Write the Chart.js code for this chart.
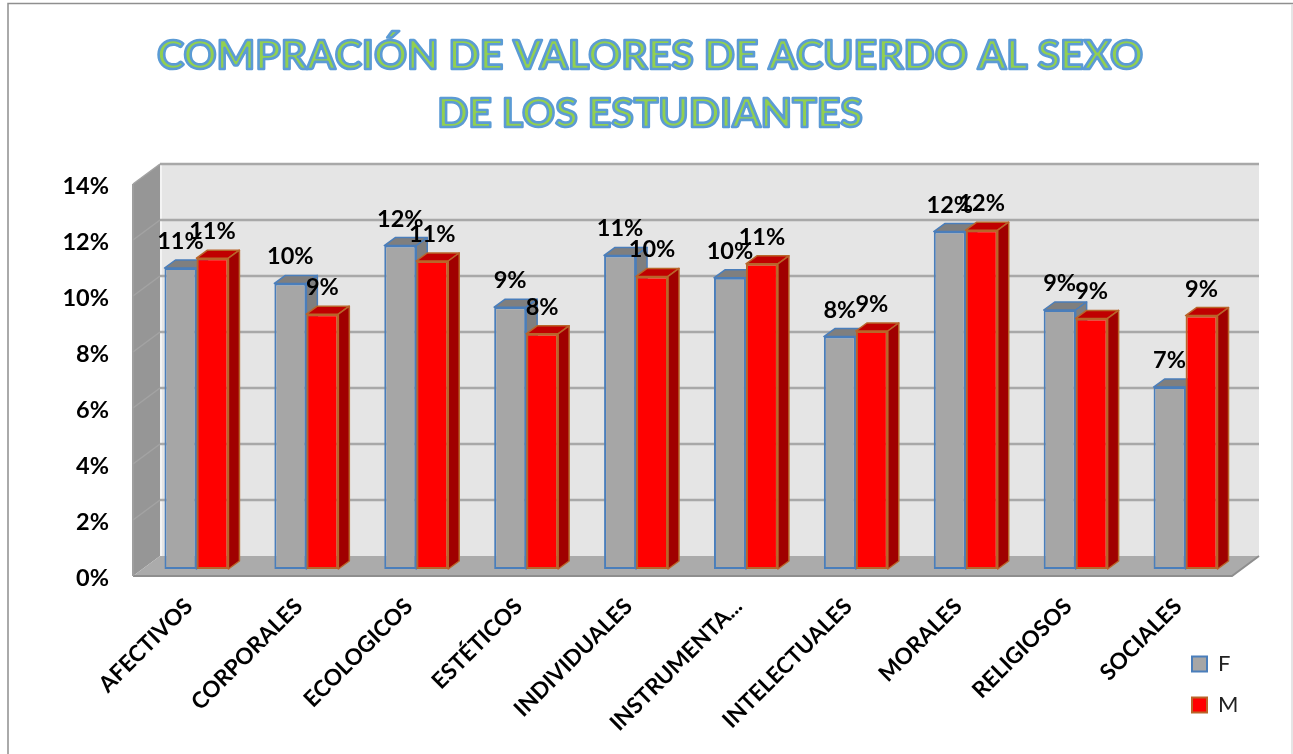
<!DOCTYPE html>
<html>
<head>
<meta charset="utf-8">
<style>html,body{margin:0;padding:0;background:#fff}canvas{display:block}</style>
<script src="https://cdn.jsdelivr.net/npm/chart.js@4/dist/chart.umd.min.js"></script>
</head>
<body>
<canvas id="c" width="1293" height="754"></canvas>
<script>
const titleLines = ['COMPRACIÓN DE VALORES DE ACUERDO AL SEXO', 'DE LOS ESTUDIANTES'];
const categories = ['AFECTIVOS','CORPORALES','ECOLOGICOS','ESTÉTICOS','INDIVIDUALES','INSTRUMENTA...','INTELECTUALES','MORALES','RELIGIOSOS','SOCIALES'];
const seriesF = [10.75,10.2,11.55,9.35,11.2,10.4,8.3,12.05,9.25,6.5];
const seriesM = [11.1,9.1,11.0,8.4,10.45,10.9,8.5,12.1,8.95,9.05];

const WALL = {dx:27, dy:-20};      // depth of the whole plot box
const PLANE = {dx:8.5, dy:-7};     // where the bars stand inside the box
const BAR = {dx:11, dy:-8};        // depth of one bar
const FONT = 'Lato';
const TITLE_SIZE = 41, TITLE_LH = 58;

function poly(ctx, pts, fill, stroke, lw){
  ctx.beginPath();
  pts.forEach((p,i)=> i ? ctx.lineTo(p[0],p[1]) : ctx.moveTo(p[0],p[1]));
  ctx.closePath();
  if(fill){ctx.fillStyle=fill;ctx.fill();}
  if(stroke){ctx.strokeStyle=stroke;ctx.lineWidth=lw||1;ctx.lineJoin='round';ctx.stroke();}
}

const box3d = {
  id:'box3d',
  afterLayout(chart){
    const t = chart.titleBlock;
    t.left = 7; t.right = 1293; t.width = 1286;
    const l = chart.legend;
    l.left = 1173; l.right = 1293; l.top = 634; l.bottom = 754; l.width = 120; l.height = 120;
  },
  beforeDraw(chart){
    const ctx = chart.ctx, y = chart.scales.y, a = chart.chartArea;
    const L=a.left, R=a.right, B=y.getPixelForValue(0), T=y.getPixelForValue(14);
    const dx=WALL.dx, dy=WALL.dy;
    ctx.save();
    ctx.fillStyle='#fff'; ctx.fillRect(0,0,chart.width,chart.height);
    // page frame
    ctx.strokeStyle='#8f8f8f'; ctx.lineWidth=1.5;
    ctx.beginPath(); ctx.moveTo(8,754); ctx.lineTo(8,3.5); ctx.lineTo(1293,3.5); ctx.stroke();
    ctx.strokeStyle='#dcdcdc'; ctx.lineWidth=1.5;
    ctx.beginPath(); ctx.moveTo(1292,4); ctx.lineTo(1292,754); ctx.stroke();
    // back wall
    poly(ctx,[[L+dx,T+dy],[R+dx,T+dy],[R+dx,B+dy],[L+dx,B+dy]],'#e5e5e5');
    // left wall
    poly(ctx,[[L,T],[L+dx,T+dy],[L+dx,B+dy],[L,B]],'#969696');
    ctx.strokeStyle='#f4f4f4'; ctx.lineWidth=2;
    ctx.beginPath(); ctx.moveTo(L+dx+1,T+dy); ctx.lineTo(L+dx+1,B+dy); ctx.stroke();
    // floor
    poly(ctx,[[L,B],[L+dx,B+dy],[R+dx,B+dy],[R,B]],'#ababab');
    ctx.strokeStyle='#8e8e8e'; ctx.lineWidth=2;
    ctx.beginPath(); ctx.moveTo(L,B); ctx.lineTo(R,B); ctx.lineTo(R+dx,B+dy); ctx.stroke();
    ctx.strokeStyle='#9e9e9e';
    ctx.beginPath(); ctx.moveTo(L,B); ctx.lineTo(L,T); ctx.stroke();
    // gridlines on both walls
    y.ticks.forEach(tk=>{
      const py=y.getPixelForValue(tk.value);
      if(tk.value>0){
        ctx.strokeStyle='#a8a8a8'; ctx.lineWidth=2.5;
        ctx.beginPath(); ctx.moveTo(L+dx,py+dy); ctx.lineTo(R+dx,py+dy); ctx.stroke();
        ctx.strokeStyle='#a3a3a3'; ctx.lineWidth=1.5;
        ctx.beginPath(); ctx.moveTo(L,py); ctx.lineTo(L+dx,py+dy); ctx.stroke();
      }
    });
    ctx.restore();
  },
  beforeDatasetsDraw(chart){
    const ctx = chart.ctx;
    const metas = [chart.getDatasetMeta(0),chart.getDatasetMeta(1)];
    ctx.save();
    ctx.translate(PLANE.dx,PLANE.dy);
    metas.forEach((meta,di)=>{
      const ds = chart.data.datasets[di];
      meta.data.forEach(bar=>{
        const p = bar.getProps(['x','y','base','width'],true);
        const l=p.x-p.width/2, r=p.x+p.width/2, t=p.y, b=p.base;
        poly(ctx,[[l,t],[l+BAR.dx,t+BAR.dy],[r+BAR.dx,t+BAR.dy],[r,t]],ds.topColor,ds.borderColor,1.5);
        poly(ctx,[[r,t],[r+BAR.dx,t+BAR.dy],[r+BAR.dx,b+BAR.dy],[r,b]],ds.sideColor,ds.borderColor,1.5);
      });
      meta.controller.draw();
    });
    // value labels on top of everything
    ctx.fillStyle='#000';
    ctx.font='bold 23.5px '+FONT;
    ctx.textAlign='center';
    ctx.textBaseline='middle';
    metas.forEach((meta,di)=>{
      const values = chart.data.datasets[di].data;
      meta.data.forEach((bar,i)=>{
        const p = bar.getProps(['x','y'],true);
        ctx.fillText(Math.round(values[i])+'%',p.x,p.y-26.5);
      });
    });
    ctx.restore();
    return false;
  },
  afterDraw(chart){
    const ctx = chart.ctx, t = chart.titleBlock, o = chart.options.plugins.title;
    ctx.save();
    ctx.font='bold '+TITLE_SIZE+'px '+FONT;
    ctx.textAlign='center'; ctx.textBaseline='middle';
    ctx.strokeStyle='#5b9bd5'; ctx.lineWidth=2.6; ctx.lineJoin='round';
    titleLines.forEach((s,i)=>{
      ctx.strokeText(s,(t.left+t.right)/2,t.top+o.padding.top+TITLE_LH*(i+0.5));
    });
    ctx.restore();
  }
};

new Chart(document.getElementById('c'),{
  type:'bar',
  data:{labels:categories,datasets:[
    {label:'F',data:seriesF,backgroundColor:'#a6a6a6',borderColor:'#4a7ebb',borderWidth:2,borderSkipped:false,topColor:'#7f7f7f',sideColor:'#7f7f7f'},
    {label:'M',data:seriesM,backgroundColor:'#ff0000',borderColor:'#b9652a',borderWidth:2,borderSkipped:false,topColor:'#c00000',sideColor:'#a00000'}
  ]},
  options:{
    responsive:false,
    animation:false,
    events:[],
    layout:{padding:{left:0,right:61,top:0,bottom:0}},
    categoryPercentage:0.582,
    barPercentage:1,
    plugins:{
      tooltip:{enabled:false},
      title:{display:true,text:titleLines,color:'#92d050',font:{family:FONT,size:TITLE_SIZE,weight:'bold',lineHeight:TITLE_LH+'px'},padding:{top:27,bottom:41}},
      legend:{display:true,position:'chartArea',align:'start',labels:{boxWidth:15,boxHeight:15,color:'#222',font:{family:FONT,size:22},padding:19}}
    },
    scales:{
      x:{
        grid:{display:false},border:{display:false},
        ticks:{color:'#000',font:{family:FONT,size:22.5,weight:'bold'},maxRotation:45,minRotation:45,autoSkip:false,padding:9,labelOffset:1},
        afterFit(s){s.height=178;}
      },
      y:{
        min:0,max:14,
        grid:{display:false},border:{display:false},
        ticks:{stepSize:2,color:'#000',padding:16,labelOffset:2,font:{family:FONT,size:23.5,weight:'bold'},callback:v=>v+'%'},
        afterFit(s){s.width=133;}
      }
    }
  },
  plugins:[box3d]
});
</script>
</body>
</html>
